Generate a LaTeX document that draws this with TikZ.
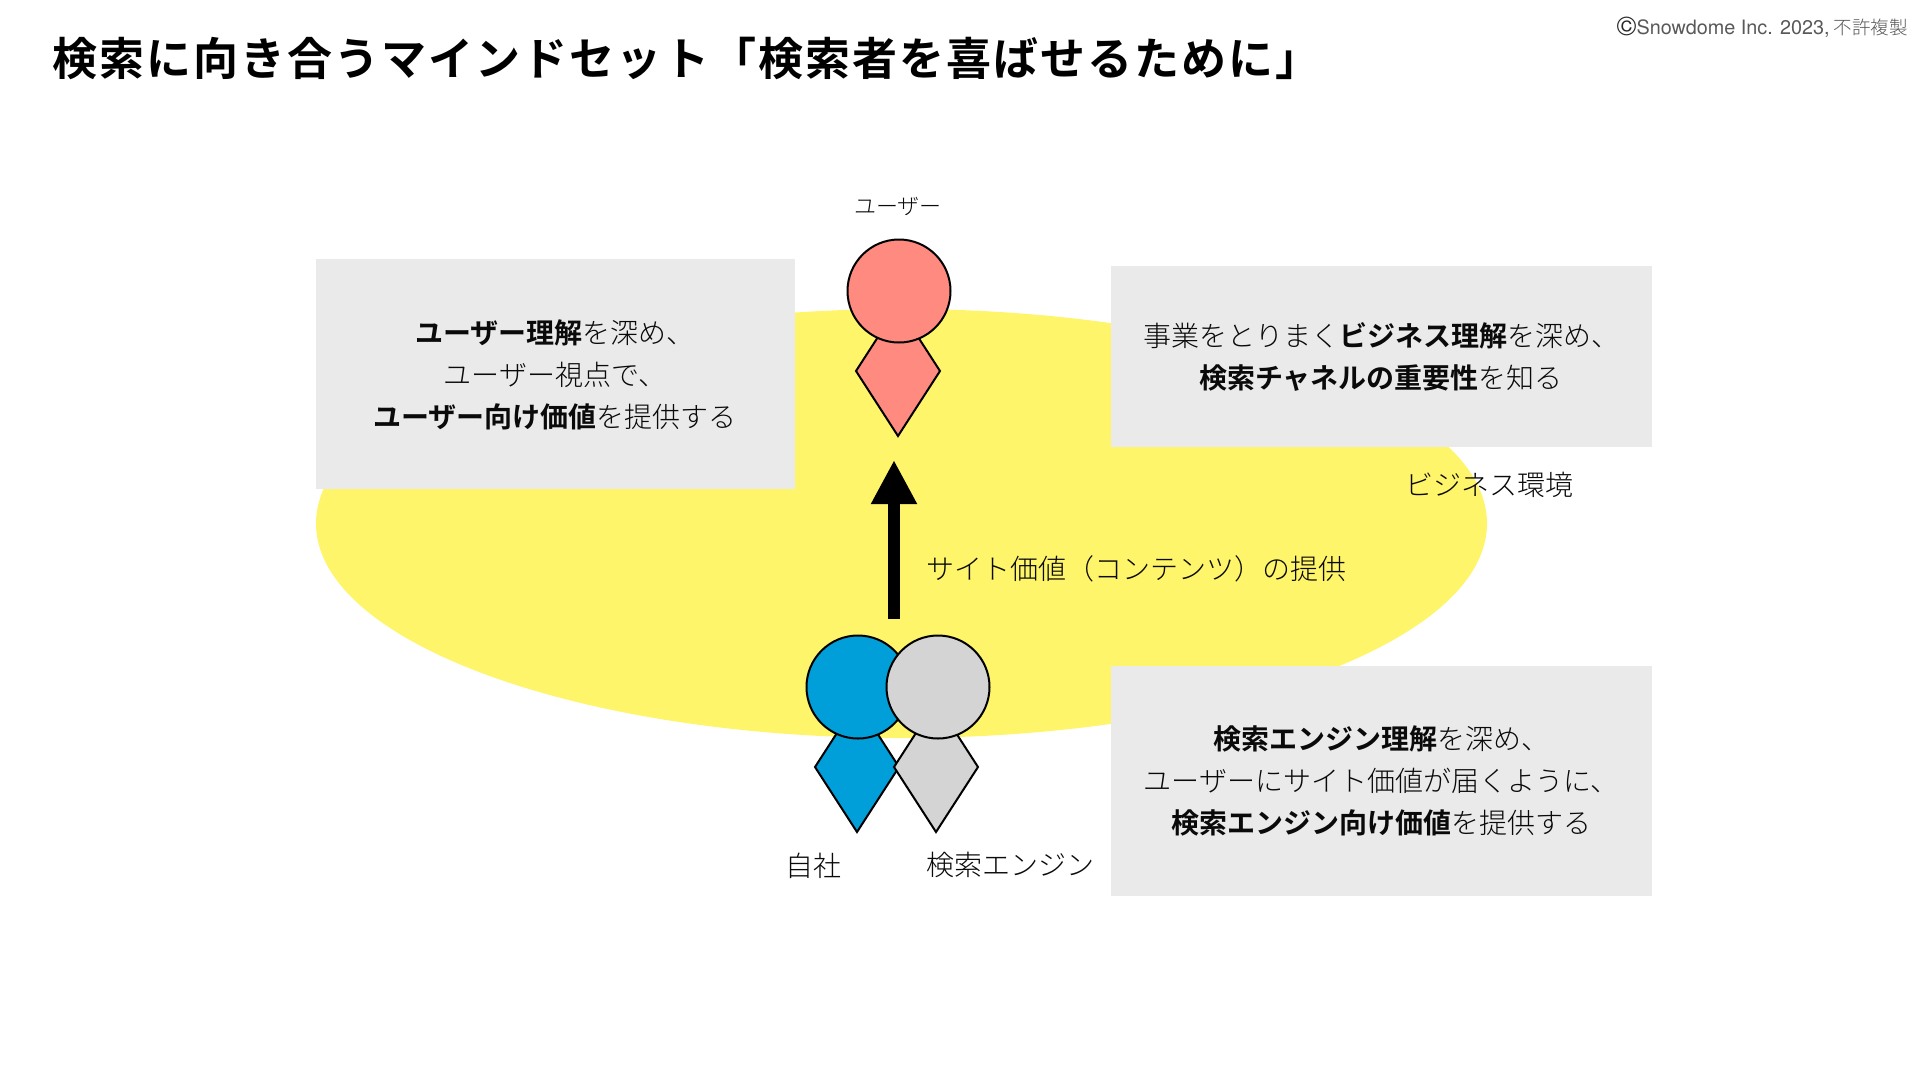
\documentclass[tikz,border=0pt]{standalone}
\usepackage{fontspec}
\usetikzlibrary{shapes.geometric,arrows.meta}
\setmainfont{Noto Sans CJK JP Light}[BoldFont={Noto Sans CJK JP Bold}]
\newfontfamily\latinfont{TeX Gyre Heros}
\definecolor{bgyellow}{HTML}{FFF56B}
\definecolor{boxgrey}{HTML}{EAEAEA}
\definecolor{userpink}{HTML}{FF8A80}
\definecolor{ownblue}{HTML}{009FD9}
\definecolor{enginegrey}{HTML}{D4D4D4}
\definecolor{inktext}{HTML}{0A0A0A}
\tikzset{
  panel/.style={fill=boxgrey,draw=none,inner sep=0,outer sep=0,anchor=north west},
  head/.style={circle,draw=black,line width=2pt,inner sep=0,outer sep=0,minimum size=#1},
  torso/.style={diamond,draw=black,line width=2pt,inner sep=0,outer sep=0,minimum width=84pt,minimum height=130pt},
  bodytext/.style={text=inktext,font=\fontsize{28}{42}\selectfont,align=center,inner sep=0},
  label/.style={text=inktext,font=\fontsize{28}{32}\selectfont,inner sep=0},
}
\begin{document}
\begin{tikzpicture}[x=1pt,y=-1pt]
\useasboundingbox (0,0) rectangle (1920,1080);
\node[fill=white,minimum width=1920pt,minimum height=1080pt,inner sep=0,anchor=north west] (bg) at (0,0) {};
\node[ellipse,fill=bgyellow,inner sep=0,outer sep=0,minimum width=1171pt,minimum height=429pt] (env) at (901.5,523.5) {};
\node[panel,minimum width=479pt,minimum height=230pt] (boxL) at (316,259) {};
\node[panel,minimum width=541pt,minimum height=181pt] (boxR) at (1111,266) {};
\node[panel,minimum width=541pt,minimum height=230pt] (boxB) at (1111,666) {};

\node[anchor=west,inner sep=0,text=black,font=\fontsize{45}{50}\selectfont\bfseries] (title) at (52,58) {\addfontfeature{LetterSpace=4.6}検索に向き合うマインドセット「検索者を喜ばせるために」};
\node[anchor=east,inner sep=0,text=black!65,font=\fontsize{18.5}{22}\selectfont] (copy) at (1908,27) {{\latinfont\fontsize{19.8}{22}\selectfont {\color{black!85}\fontsize{27}{22}\selectfont\raisebox{-1.5pt}{©}}Snowdome Inc. 2023,} 不許複製};

\node[torso,fill=userpink] (userbody) at (898,371) {};
\node[head=103pt,fill=userpink] (userhead) at (899,291) {};
\node[text=inktext,font=\fontsize{22}{26}\selectfont,inner sep=0] (userlabel) at (898,206) {ユーザー};

\node[torso,fill=ownblue] (ownbody) at (857,767) {};
\node[head=103pt,fill=ownblue] (ownhead) at (858,687) {};
\node[torso,fill=enginegrey] (enginebody) at (936,767) {};
\node[head=103pt,fill=enginegrey] (enginehead) at (938,687) {};

\coordinate (arrowstart) at (894,619);
\coordinate (arrowend) at (894,460);
\draw[line width=12pt,-{Triangle[length=44pt,width=43pt]},black] (arrowstart) -- (arrowend);

\node[label,anchor=west] (arrowlabel) at (926,569) {サイト価値（コンテンツ）の提供};
\node[label,anchor=west] (envlabel) at (1405,485) {ビジネス環境};
\node[label] (ownlabel) at (813,866) {自社};
\node[label,anchor=west] (enginelabel) at (926,865) {検索エンジン};

\node[bodytext] (textL) at (555,375) {\textbf{ユーザー理解}を深め、\\ユーザー視点で、\\\textbf{ユーザー向け価値}を提供する};
\node[bodytext] (textR) at (1381,356.5) {事業をとりまく\textbf{ビジネス理解}を深め、\\\textbf{検索チャネルの重要性}を知る};
\node[bodytext] (textB) at (1381,781) {\textbf{検索エンジン理解}を深め、\\ユーザーにサイト価値が届くように、\\\textbf{検索エンジン向け価値}を提供する};
\end{tikzpicture}
\end{document}
